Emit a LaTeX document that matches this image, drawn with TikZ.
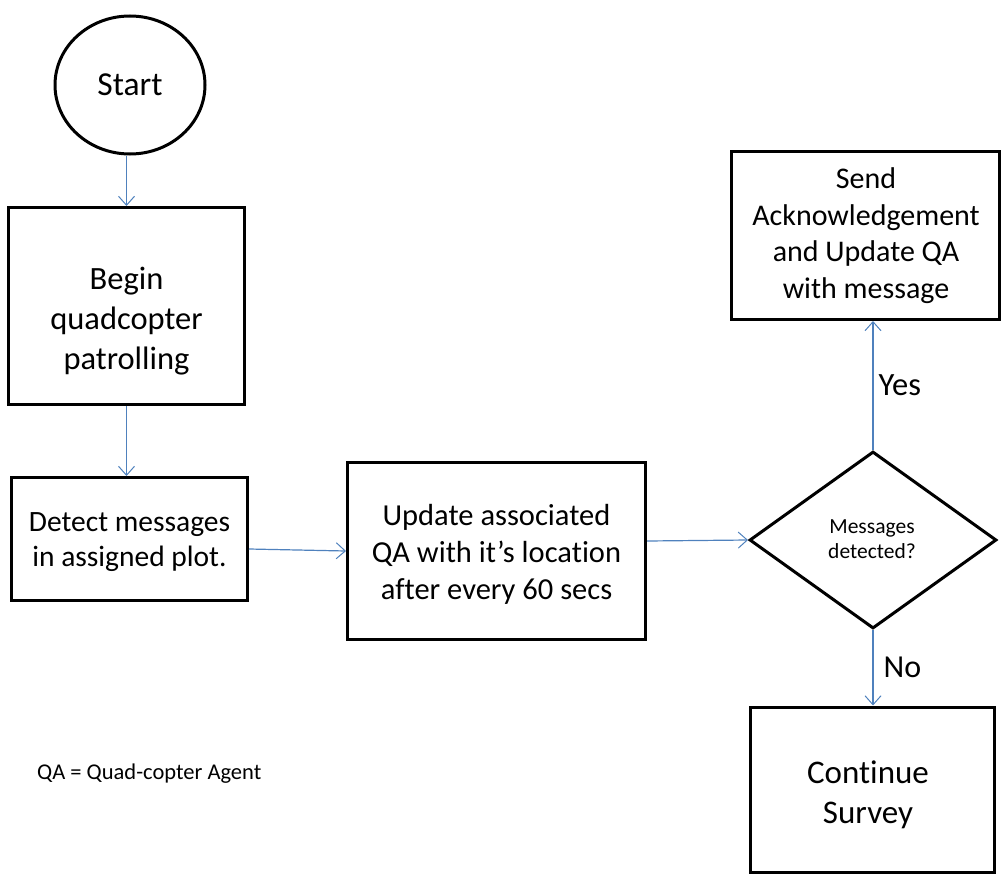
\documentclass[tikz,border=0pt]{standalone}
\usepackage{fontspec}
\setmainfont{Carlito}[Ligatures=CommonOff]
\usetikzlibrary{arrows.meta,shapes.geometric}
% font size and line distance, in pt
\newcommand{\fs}[2]{\fontsize{#1pt}{#2pt}\selectfont}
\definecolor{flowblue}{RGB}{79,129,189}
\tikzset{
  box/.style={draw=black,line width=3pt,rectangle,inner sep=0pt},
  txt/.style={align=center,inner sep=0pt},
  flow/.style={draw=flowblue,line width=1.2pt,-{Straight Barb[length=9pt,width=16pt,line width=1pt]}},
  lbl/.style={inner sep=0pt}
}
\begin{document}
\begin{tikzpicture}[x=1pt,y=-1pt]
\useasboundingbox (0,0) rectangle (1001,875);

% shapes
\node[draw=black,line width=3pt,ellipse,minimum width=150pt,minimum height=138pt,inner sep=0pt]
  (start) at (130,85) {};
\node[box,minimum width=236pt,minimum height=197pt] (begin) at (126.5,306) {};
\node[box,minimum width=236pt,minimum height=123pt] (detect) at (129.5,539) {};
\node[box,minimum width=298pt,minimum height=177pt] (update) at (496.5,551) {};
\node[draw=black,line width=3pt,diamond,aspect=1.4,minimum width=247pt,minimum height=177pt,inner sep=0pt]
  (dec) at (873,540) {};
\node[box,minimum width=268pt,minimum height=168pt] (send) at (865.5,235.5) {};
\node[box,minimum width=244pt,minimum height=165pt] (cont) at (872,789.5) {};

% texts
\node[txt,font=\fs{33.5}{40}] (starttext) at (130,85) {Start};
\node[txt,font=\fs{32.5}{40}] (begintext) at (126.5,321) {Begin\\quadcopter\\patrolling};
\node[txt,font=\fs{29.5}{35}] (detecttext) at (129.5,542) {Detect messages\\in assigned plot.};
\node[txt,font=\fs{30.5}{37}] (updatetext) at (496.5,554) {Update associated\\QA with it’s location\\after every 60 secs};
\node[txt,font=\fs{21.5}{25}] (dectext) at (872,539) {Messages\\detected?};
\node[txt,font=\fs{30}{36.5}] (sendtext) at (866,235.5) {Send\\Acknowledgement\\and Update QA\\with message};
\node[txt,font=\fs{33}{40}] (conttext) at (868,795) {Continue\\Survey};

\node[lbl,anchor=west,font=\fs{22.5}{27}] (legend) at (37,774) {QA = Quad-copter Agent};

% connectors
\draw[flow] (begin.north |- start.south) -- (begin.north);
\draw[flow] (begin.south) -- (begin.south |- detect.north);
\draw[flow] (detect.east |- 0,549) -- (update.west |- 0,551);
\draw[flow] (update.east |- 0,541) -- (dec.west);
\draw[flow] (dec.north) -- (dec.north |- send.south)
  node[lbl,midway,right=5pt,font=\fs{32.5}{39}] (yes) {Yes};
\draw[flow] (dec.south) -- (dec.south |- cont.north)
  node[lbl,midway,right=10pt,font=\fs{32}{39}] (no) {No};
\end{tikzpicture}
\end{document}
